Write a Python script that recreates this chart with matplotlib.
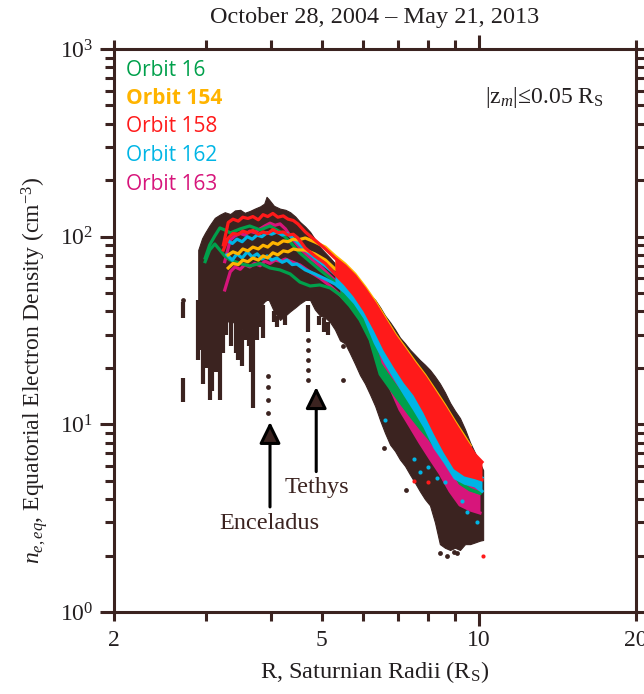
import numpy as np
import matplotlib
matplotlib.use('Agg')
import matplotlib.pyplot as plt
from matplotlib.ticker import FixedLocator, FixedFormatter, NullFormatter, LogLocator

plt.rcParams['font.family'] = 'serif'
plt.rcParams['font.serif'] = ['Liberation Serif', 'DejaVu Serif']
plt.rcParams['mathtext.fontset'] = 'custom'
plt.rcParams['mathtext.rm'] = 'Liberation Serif'
plt.rcParams['mathtext.it'] = 'Liberation Serif:italic'

BROWN = '#3b2320'
INK = '#231f20'

# all equatorial crossings: upper / lower envelope of the density cloud
r_all = [2.90, 2.95, 2.99, 3.05, 3.12, 3.19, 3.26, 3.34, 3.41, 3.49, 3.56, 3.64, 3.72, 3.81, 3.88,
         3.92, 3.96, 4.05, 4.16, 4.26, 4.35, 4.45, 4.54, 4.65, 4.75, 4.85, 4.96, 5.08, 5.19, 5.30,
         5.42, 5.54, 5.66, 5.79, 5.92, 6.05, 6.19, 6.33, 6.47, 6.61, 6.76, 6.91, 7.06, 7.22, 7.38,
         7.54, 7.71, 7.88, 8.06, 8.24, 8.42, 8.61, 8.81, 9.00, 9.20, 9.41, 9.62, 9.84, 10.05, 10.19]
n_all_hi = [85, 98, 105, 115, 126, 131, 135, 132, 138, 139, 134, 137, 141, 145, 150,
            163, 158, 146, 141, 139, 135, 128, 120, 113, 106, 97, 88, 82, 77, 72,
            68, 64, 61, 58, 55, 52, 49, 46, 42, 38, 35, 32, 29, 27, 25,
            23.5, 22, 20.8, 19.5, 18, 16.5, 14.8, 13, 11.8, 10.8, 9.4, 8.0, 7.0, 6.2, 5.7]
n_all_lo = [46, 34, 31, 34, 40, 34, 38, 34, 36, 31, 34, 39, 38, 42, 45,
            46, 46, 40, 36, 38, 40, 42, 44, 46, 46, 41, 38, 37, 35, 32,
            28, 27, 24, 21, 18.3, 16.5, 14.4, 12.5, 10.5, 9.0, 7.8, 7.2, 6.5, 6.0, 5.4,
            4.9, 4.4, 4.0, 3.7, 3.0, 2.3, 2.2, 2.14, 2.2, 2.14, 2.3, 2.3, 2.35, 2.4, 2.42]

# density drop-outs hanging below the envelope
r_streak = [2.71, 2.71, 2.90, 2.93, 2.96, 3.00, 3.05, 3.08, 3.13, 3.16, 3.19, 3.23, 3.28, 3.35, 3.42,
            3.46, 3.52, 3.56, 3.62, 3.66, 3.70, 3.75, 3.80, 3.86, 4.05, 4.10, 4.25, 4.70, 4.95, 5.05,
            5.15]
n_streak_hi = [45, 17.7, 46, 44, 40, 34, 36, 40, 44, 40, 36, 38, 40, 36, 38,
               34, 32, 36, 40, 40, 41, 39, 43, 43, 40, 38, 38, 43, 38, 37,
               35]
n_streak_lo = [37, 13.2, 22, 25, 16.5, 20, 13.5, 15, 19, 22, 13.5, 24, 30, 26, 24,
               22, 20.5, 28, 26, 19, 12.2, 28, 33, 29, 35, 33, 34, 31, 34, 31,
               30]

# isolated samples
r_dots = [2.71, 3.94, 3.94, 3.94, 3.94, 4.70, 4.70, 4.70, 4.70, 4.70, 5.50, 5.50, 6.57, 7.25,
          8.42, 8.70, 8.95, 9.10]
n_dots = [46, 18.0, 15.9, 13.5, 11.5, 28.2, 24.9, 22.0, 19.5, 17.2, 26, 17.2, 7.5, 4.47,
          2.05, 2.0, 2.1, 2.05]

# single orbits, outbound and inbound legs
r_16 = [2.99, 3.05, 3.12, 3.19, 3.26, 3.34, 3.49, 3.64, 3.81, 3.98, 4.16, 4.35,
        4.54, 4.75, 4.96, 5.19, 5.42, 5.66, 5.92, 6.19, 6.47, 6.76, 7.06, 7.38, 7.71, 8.06,
        8.42, 8.81, 9.20, 9.62, 10.05]
n_16_out = [76.9, 90.3, 100.9, 111.3, 108.6, 104.7, 110, 114, 108.6, 114, 106, 93.7,
            81.9, 73.6, 66.5, 60.2, 54.6, 48.3, 40.7, 33, 21, 17.6, 14.9, 12.9, 10.8, 9.34,
            8.26, 6.46, 4.85, 4.47, 4.3]
n_16_in = [73.6, 84.9, 91.4, 84.9, 78.9, 75.1, 72, 69.8, 72, 68.1, 66.5, 63.3,
           57.3, 54.6, 55.3, 53.3, 48.9, 42.8, 36, 28.2, 18.5, 15.6, 13.2, 11.2, 9.6, 8.3,
           7.0, 5.8, 4.9, 4.5, 4.3]

r_154 = [3.31, 3.38, 3.46, 3.53, 3.61, 3.69, 3.78, 3.86, 3.94, 4.03, 4.12, 4.22, 4.31, 4.41, 4.50,
         4.65, 4.85, 5.08, 5.30, 5.54, 5.79, 6.05, 6.33, 6.61, 6.91, 7.22, 7.54, 7.88, 8.24, 8.61,
         9.00, 9.41, 9.62]
n_154_out = [79.9, 83, 81, 86, 84, 88, 86, 90, 88, 93, 91, 95, 94, 97, 96,
             98.4, 93.7, 88, 79, 71.5, 63.2, 53.9, 44.9, 36.9, 30.2, 25.5, 21.5, 18.3, 15.2, 12.6,
             10.3, 8.5, 7.7]
n_154_in = [68.1, 72, 71, 75, 73.5, 77, 75, 79, 77, 82, 80, 84, 83, 86, 85,
            84.9, 80.9, 75.1, 67.3, 61.7, 54.6, 46.6, 38.8, 31.8, 26.2, 22, 18.5, 15.8, 13, 10.8,
            8.9, 7.3, 6.6]

r_158 = [3.24, 3.31, 3.38, 3.46, 3.53, 3.61, 3.69, 3.78, 3.86, 3.94, 4.03, 4.12, 4.22, 4.31, 4.41,
         4.50, 4.65, 4.85, 5.08, 5.30, 5.54, 5.79, 6.05, 6.33, 6.61, 6.91, 7.22, 7.54, 7.88, 8.24,
         8.61, 9.00, 9.41, 9.84, 10.14]
n_158_out = [90.3, 119, 124, 121, 127, 125, 128, 123, 131, 128, 133, 127, 129, 124, 122,
             117, 106, 96, 86, 76.9, 69.8, 61.7, 52.6, 43.8, 36, 29.5, 24.9, 21, 17.9, 14.8,
             12.3, 10.05, 8.26, 6.87, 6.3]
n_158_in = [84.9, 98.4, 104, 103, 107, 105, 108, 103, 106, 104, 109, 105, 106, 102, 103,
            98.4, 87, 78.9, 72, 63.3, 56, 48.3, 40.2, 31.8, 24.9, 20.3, 16.8, 14.4, 11.6, 9.0,
            7.15, 5.85, 5.37, 5.2, 5.06]

r_162 = [3.29, 3.37, 3.44, 3.52, 3.60, 3.68, 3.76, 3.84, 3.93, 4.01, 4.10, 4.20, 4.29, 4.39, 4.48,
         4.65, 4.85, 5.08, 5.30, 5.54, 5.79, 6.05, 6.33, 6.61, 6.91, 7.22, 7.54, 7.88, 8.24, 8.61,
         9.00, 9.41, 9.84, 10.14]
n_162_out = [96, 92, 97, 94, 100, 97, 102, 100, 105, 103, 106, 102, 104, 99, 94,
             84.9, 76.9, 69.8, 63.3, 58.1, 50.7, 43.3, 33.9, 27.2, 22.0, 18.1, 15.3, 12.7, 9.5, 7.77,
             6.3, 5.71, 5.44, 5.18]
n_162_in = [80, 75, 81, 77, 83, 78, 81, 76, 79, 75, 77, 73, 75, 71, 71.5,
            66.5, 63.3, 59.5, 56, 50.7, 44.3, 36.9, 27.2, 21.6, 17.6, 14.4, 11.9, 9.7, 7.5, 6.3,
            5.18, 4.85, 4.7, 4.4]

r_163 = [3.26, 3.34, 3.41, 3.49, 3.56, 3.64, 3.72, 3.81, 3.89, 3.98, 4.07, 4.16, 4.26, 4.35,
         4.54, 4.75, 4.96, 5.19, 5.42, 5.66, 5.92, 6.19, 6.47, 6.76, 7.06, 7.38, 7.71, 8.06,
         8.42, 8.81, 9.20, 9.62, 10.05]
n_163_out = [73.6, 96, 101, 104, 102, 107, 105, 110, 114, 118, 115, 117, 110, 101,
             87, 76.9, 69.8, 61.7, 55.3, 50.7, 44.3, 36, 26.5, 21.6, 17.2, 14.4, 11.9, 9.5,
             7.77, 6.3, 5.18, 4.7, 4.47]
n_163_in = [52, 65, 69, 67, 71, 69, 72, 70, 74, 72, 75, 74, 76, 74,
            70.7, 64.9, 60.2, 54.6, 48.9, 44.3, 36.9, 28.8, 19.5, 15.8, 12.0, 9.8, 8.0, 6.6,
            5.5, 4.4, 3.72, 3.5, 3.37]

# scattered single samples of two orbits
r_162_dots = [6.6, 7.5, 7.7, 8.0, 8.3, 8.6, 9.3, 9.5, 9.9]
n_162_dots = [10.5, 6.5, 5.6, 5.9, 5.2, 4.9, 3.9, 3.4, 3.0]
r_158_dots = [7.5, 8.0, 10.2]
n_158_dots = [5.0, 4.9, 2.0]

orbit_names = ['Orbit 16', 'Orbit 154', 'Orbit 158', 'Orbit 162', 'Orbit 163']
orbit_colors = ['#00a04b', '#ffb400', '#ff1a1a', '#00b5e5', '#d7157b']
moon_names = ['Enceladus', 'Tethys']
moon_r = [3.98, 4.88]

fig = plt.figure(figsize=(6.44, 6.94), dpi=100)
ax = fig.add_axes([114/644, 1 - 612/694, 522/644, 563/694])
ax.set_xscale('log')
ax.set_yscale('log')
ax.set_xlim(2, 20)
ax.set_ylim(1, 1000)

ax.fill_between(r_all, n_all_lo, n_all_hi, color=BROWN, lw=0.8, edgecolor=BROWN, zorder=1)
ax.vlines(r_streak, n_streak_lo, n_streak_hi, color=BROWN, lw=3, zorder=1)
ax.scatter(r_dots, n_dots, s=12, color=BROWN, lw=0, zorder=1)

# draw order: magenta, green, cyan, orange, red on top
legs = [
    (r_163, n_163_out, n_163_in, orbit_colors[4]),
    (r_16, n_16_out, n_16_in, orbit_colors[0]),
    (r_162, n_162_out, n_162_in, orbit_colors[3]),
    (r_154, n_154_out, n_154_in, orbit_colors[1]),
    (r_158, n_158_out, n_158_in, orbit_colors[2]),
]
for k, (r, n_out, n_in, c) in enumerate(legs):
    r = np.array(r)
    z = 2 + k
    ax.plot(r, n_out, color=c, lw=2.3, zorder=z)
    ax.plot(r, n_in, color=c, lw=2.3, zorder=z)
    band = r >= 5.3
    ax.fill_between(r[band], np.array(n_in)[band], np.array(n_out)[band], color=c, lw=0, zorder=z)

ax.scatter(r_162_dots, n_162_dots, s=9, color=orbit_colors[3], lw=0, zorder=4)
ax.scatter(r_158_dots, n_158_dots, s=9, color=orbit_colors[2], lw=0, zorder=6)

# moon markers
arrow = dict(arrowstyle='-|>,head_length=0.65,head_width=0.32', mutation_scale=20,
             fc=BROWN, ec='black', lw=2.2, shrinkA=0, shrinkB=0)
ax.annotate('', xy=(moon_r[0], 10.3), xytext=(moon_r[0], 3.63), arrowprops=arrow, zorder=8)
ax.annotate('', xy=(moon_r[1], 15.8), xytext=(moon_r[1], 5.6), arrowprops=arrow, zorder=8)
ax.text(3.96, 2.95, moon_names[0], ha='center', va='center', fontsize=17.5, color=BROWN)
ax.text(4.90, 4.58, moon_names[1], ha='center', va='center', fontsize=17.5, color=BROWN)

# axes styling
for s in ax.spines.values():
    s.set_linewidth(2.2)
    s.set_color(BROWN)
ax.xaxis.set_major_locator(FixedLocator([10]))
ax.xaxis.set_major_formatter(FixedFormatter(['10']))
ax.xaxis.set_minor_locator(FixedLocator([2, 3, 4, 5, 6, 7, 8, 9, 20]))
ax.xaxis.set_minor_formatter(FixedFormatter(['2', '', '', '5', '', '', '', '', '20']))
ax.yaxis.set_minor_locator(LogLocator(base=10, subs=np.arange(2, 10)))
ax.yaxis.set_minor_formatter(NullFormatter())
ax.tick_params(which='both', direction='out', top=True, right=True, color=BROWN,
               width=2.2, labelsize=17, labelcolor=INK)
ax.tick_params(which='major', length=10, pad=3)
ax.tick_params(which='minor', length=6.5, pad=6.5)
ax.tick_params(axis='y', which='major', pad=5)

fig.text(375/644, 1 - 17/694, 'October 28, 2004 \u2013 May 21, 2013', ha='center', va='center',
         fontsize=17.5, color=INK)
fig.text(375/644, 1 - 672/694, r'R, Saturnian Radii (R$_\mathrm{S}$)', ha='center', va='center',
         fontsize=17.5, color=INK)
fig.text(35/644, 1 - 370/694, r'$n_{e,eq}$, Equatorial Electron Density (cm$^{-3}$)',
         rotation=90, ha='center', va='center', fontsize=17, color=INK)
fig.text(604/644, 1 - 98/694, r'$|\mathrm{z}_{m}|$' + '\u22640.05 R' + r'$_\mathrm{S}$',
         ha='right', va='center', fontsize=17, color=INK)

for i, (name, c) in enumerate(zip(orbit_names, orbit_colors)):
    fig.text(126/644, 1 - (70 + 28.5 * i)/694, name, ha='left', va='center', fontsize=15,
             color=c, family='Open Sans', fontweight='bold' if name == 'Orbit 154' else 'normal')

fig.savefig('out.png', dpi=100)
